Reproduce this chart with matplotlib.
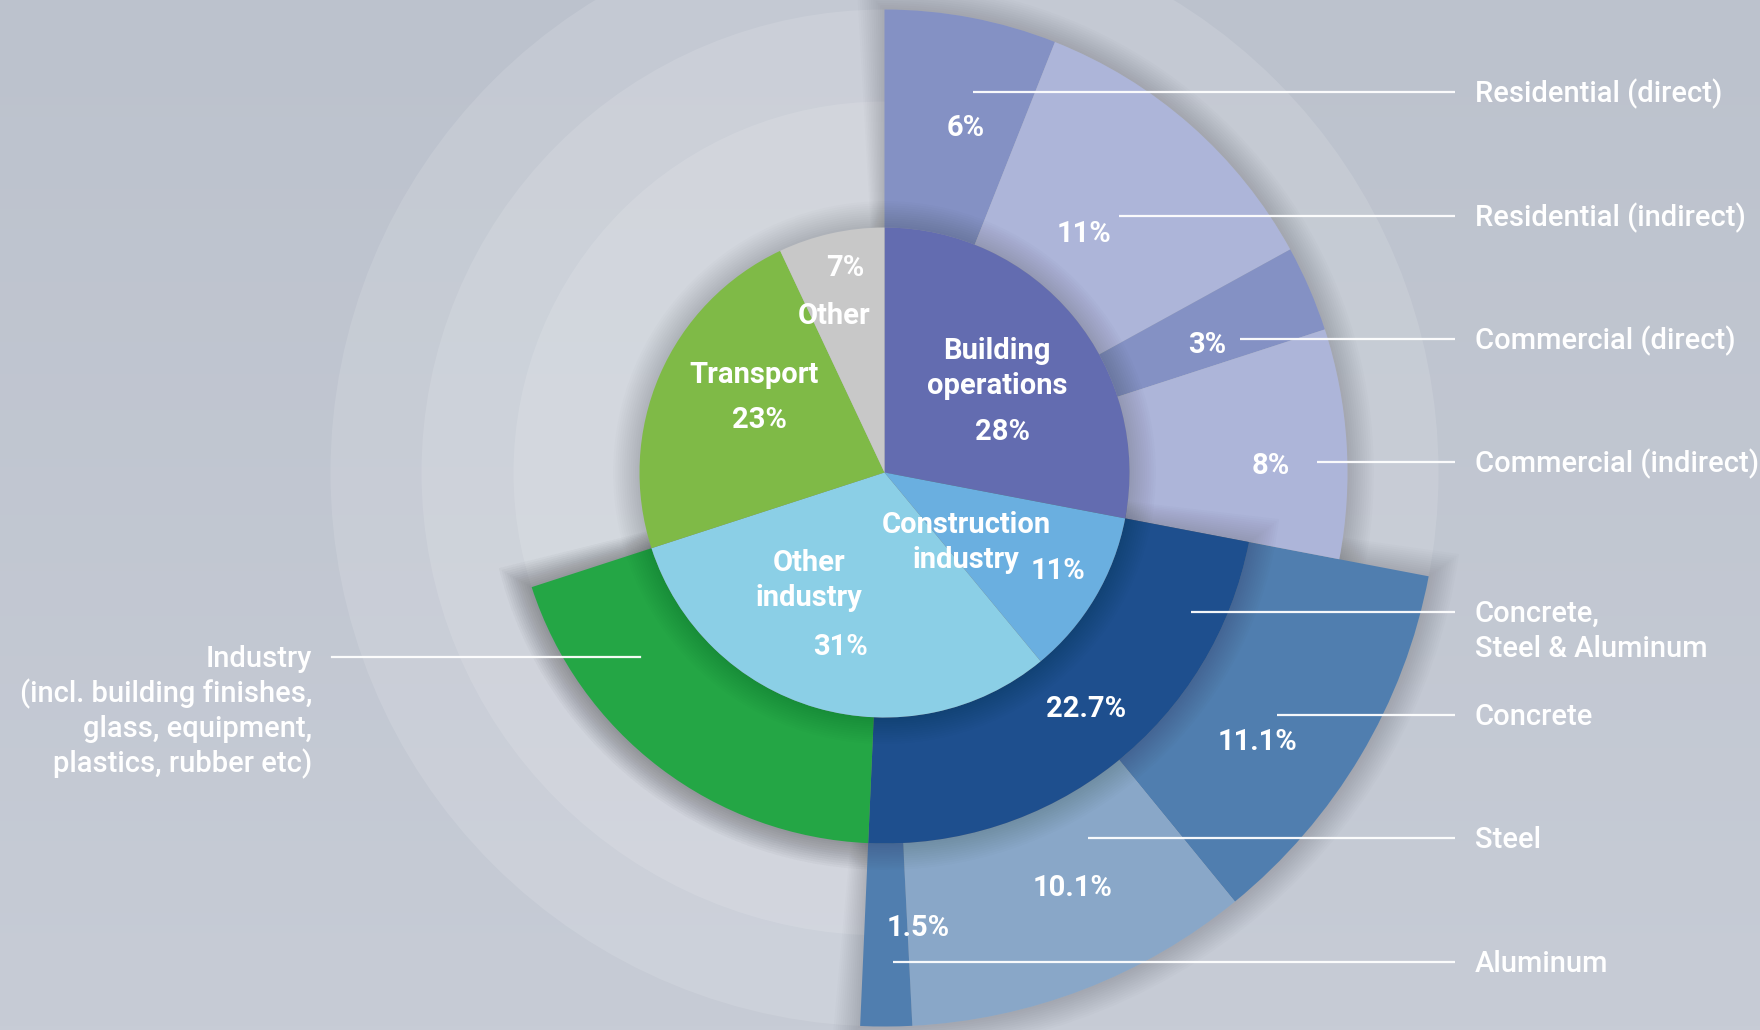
import numpy as np
import matplotlib
matplotlib.use("Agg")
import matplotlib.pyplot as plt
from matplotlib.patches import Wedge, Circle
from matplotlib.colors import to_rgb

W, H = 1760, 1030
CX, CY = 884.5, 472.5          # chart centre, pixels from top-left
R0, R1, R2, R3 = 245, 371, 463, 554

# inner pie: share of global CO2 emissions (%)
inner_names = ["Building\noperations", "Construction\nindustry", "Other\nindustry", "Transport", "Other"]
inner_vals = [28, 11, 31, 23, 7]
inner_cols = ["#636CB0", "#6AAFE0", "#8BCFE6", "#7FBA47", "#C8C8C8"]

# building operations split
bld_names = ["Residential (direct)", "Residential (indirect)", "Commercial (direct)", "Commercial (indirect)"]
bld_vals = [6, 11, 3, 8]
bld_cols = ["#8491C4", "#ADB5D9", "#8491C4", "#ADB5D9"]

# industry split (construction materials vs rest of industry)
ind_names = ["Concrete,\nSteel & Aluminum", "Industry\n(incl. building finishes,\nglass, equipment,\nplastics, rubber etc)"]
ind_vals = [22.7, 19.3]
ind_cols = ["#1E4F8E", "#24A645"]

# materials split
mat_names = ["Concrete", "Steel", "Aluminum"]
mat_vals = [11.1, 10.1, 1.5]
mat_cols = ["#507EAF", "#89A7C8", "#507EAF"]

plt.rcParams["font.family"] = ["Roboto", "DejaVu Sans"]


def Y(y):
    return H - y


C = (CX, Y(CY))


def spans(vals, start):
    cum = np.concatenate([[0], np.cumsum(vals)])
    return [(start - cum[i + 1] * 3.6, start - cum[i] * 3.6) for i in range(len(vals))]


def shadow(ax, t1, t2, r, z, n=12, step=2.2, alpha=0.011):
    # soft drop shadow: stack of faint, slightly larger wedges
    for k in range(1, n + 1):
        rr = r + k * step
        dt = np.degrees(k * step / r)
        ax.add_patch(Wedge(C, rr, t1 - dt, t2 + dt, color="k", alpha=alpha, lw=0, zorder=z))


def label(ax, x, y, text, size=21, weight="medium", ha="center", dy=35):
    for i, line in enumerate(text.split("\n")):
        ax.text(x, Y(y + i * dy) - 10, line, ha=ha, va="baseline", color="white",
                fontsize=size, fontweight=weight, zorder=20)


fig = plt.figure(figsize=(W / 100, H / 100), dpi=100)
ax = fig.add_axes([0, 0, 1, 1])
ax.set_xlim(0, W); ax.set_ylim(0, H); ax.axis("off")

# background gradient + soft concentric discs
top, bot = np.array(to_rgb("#BCC2CD")), np.array(to_rgb("#C7CCD6"))
g = np.linspace(0, 1, 256)[:, None, None]
ax.imshow(top + (bot - top) * g * np.ones((1, 2, 1)), extent=(0, W, 0, H), aspect="auto", zorder=0)
for r in (R3, R2, R1):
    ax.add_patch(Circle(C, r, color="white", alpha=0.12, lw=0, zorder=1))

inner_sp = spans(inner_vals, 90)
bld_sp = spans(bld_vals, 90)
ind_sp = spans(ind_vals, 90 - inner_vals[0] * 3.6)
mat_sp = spans(mat_vals, 90 - inner_vals[0] * 3.6)

# cast shadows on the background
shadow(ax, bld_sp[-1][0], bld_sp[0][1], R2, 2)
shadow(ax, mat_sp[-1][0], mat_sp[0][1], R3, 2)
shadow(ax, ind_sp[-1][0], ind_sp[0][1], R1, 2)

for (t1, t2), c in zip(mat_sp, mat_cols):
    ax.add_patch(Wedge(C, R3, t1, t2, width=R3 - R1, color=c, lw=0, zorder=3))
for (t1, t2), c in zip(bld_sp, bld_cols):
    ax.add_patch(Wedge(C, R2, t1, t2, width=R2 - R0, color=c, lw=0, zorder=3))
shadow(ax, ind_sp[-1][0], ind_sp[0][1], R1, 4)
for (t1, t2), c in zip(ind_sp, ind_cols):
    ax.add_patch(Wedge(C, R1, t1, t2, width=R1 - R0, color=c, lw=0, zorder=5))
for k in range(1, 13):
    ax.add_patch(Circle(C, R0 + k * 2.2, color="k", alpha=0.011, lw=0, zorder=6))
for (t1, t2), c in zip(inner_sp, inner_cols):
    ax.add_patch(Wedge(C, R0, t1, t2, color=c, lw=0, zorder=7))

# inner pie labels
label(ax, 997, 349, inner_names[0], weight="bold")
label(ax, 1002, 430, f"{inner_vals[0]}%", weight="bold")
label(ax, 966, 523, inner_names[1], weight="bold")
label(ax, 1058, 569, f"{inner_vals[1]}%", weight="bold")
label(ax, 809, 561, inner_names[2], weight="bold")
label(ax, 840, 645, f"{inner_vals[2]}%", weight="bold")
label(ax, 754, 373, inner_names[3], weight="bold")
label(ax, 759, 418, f"{inner_vals[3]}%", weight="bold")
label(ax, 845, 266, f"{inner_vals[4]}%", weight="bold")
label(ax, 834, 314, inner_names[4], weight="bold")

# ring percentages
for (x, y), v in zip([(966, 126), (1084, 232), (1207, 343), (1271, 464)], bld_vals):
    label(ax, x, y, f"{v}%", weight="bold")
label(ax, 1086, 707, f"{ind_vals[0]}%", weight="bold")
for (x, y), v in zip([(1258, 740), (1073, 886), (918, 926)], mat_vals):
    label(ax, x, y, f"{v}%", weight="bold")

# leader lines + outside names
LX0, TX = 1455, 1475
leaders = [(973, 92, bld_names[0]), (1119, 216, bld_names[1]), (1240, 339, bld_names[2]),
           (1317, 462, bld_names[3]), (1191, 612, ind_names[0]), (1277, 715, mat_names[0]),
           (1088, 838, mat_names[1]), (893, 962, mat_names[2])]
for x0, y, name in leaders:
    ax.plot([x0, LX0], [Y(y), Y(y)], color="white", lw=1.6, alpha=0.95, zorder=15, solid_capstyle="butt")
    label(ax, TX, y, name, ha="left")
ax.plot([332, 640], [Y(657), Y(657)], color="white", lw=1.6, alpha=0.95, zorder=15)
label(ax, 312, 657, ind_names[1], ha="right")

fig.savefig("out.png", dpi=100)
